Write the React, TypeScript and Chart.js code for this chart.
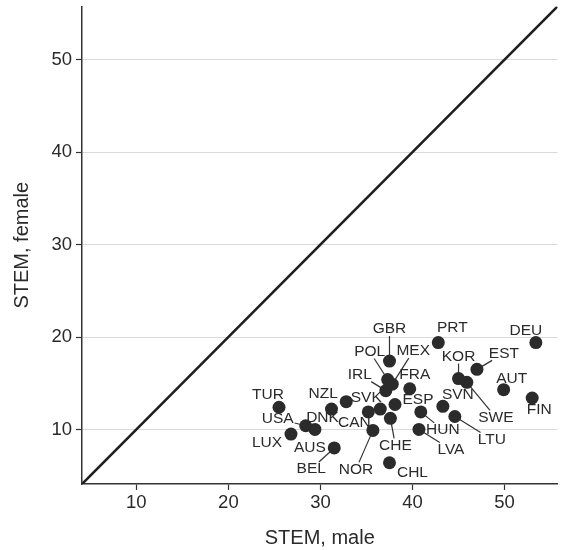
import React, { useEffect, useRef } from 'react';
import { Chart, registerables } from 'chart.js';

Chart.register(...registerables);

const countries = ['DEU', 'PRT', 'GBR', 'EST', 'KOR', 'SWE', 'POL', 'MEX', 'IRL', 'FRA', 'AUT', 'FIN', 'TUR', 'DNK', 'NZL', 'CAN', 'SVK', 'ESP', 'SVN', 'HUN', 'CHE', 'LTU', 'USA', 'AUS', 'LUX', 'NOR', 'LVA', 'BEL', 'CHL'];
const stemMale = [53.4, 42.8, 37.5, 47.0, 45.0, 45.9, 37.3, 37.8, 37.1, 39.7, 49.9, 53.0, 25.5, 31.2, 32.8, 35.2, 36.5, 38.1, 43.3, 40.9, 37.6, 44.6, 28.4, 29.4, 26.8, 35.7, 40.7, 31.5, 37.5];
const stemFemale = [19.4, 19.4, 17.4, 16.5, 15.5, 15.1, 15.4, 14.9, 14.2, 14.4, 14.3, 13.4, 12.4, 12.2, 13.0, 11.9, 12.2, 12.7, 12.5, 11.9, 11.2, 11.4, 10.4, 10.0, 9.5, 9.9, 10.0, 8.0, 6.4];
const tickValues = [10, 20, 30, 40, 50];
const axisMin = 4.1;
const axisMax = 55.75;

// label offsets (px) relative to point, and whether a leader line is drawn
const labelPlacement: Record<string, [number, number, boolean]> = {
  DEU: [-10, -12, false],
  PRT: [14, -15, false],
  GBR: [0, -32, true],
  EST: [27, -16, true],
  KOR: [0, -22, true],
  SWE: [29, 35, true],
  POL: [-18, -28, true],
  MEX: [21, -33, true],
  IRL: [-26, -16, true],
  FRA: [5, -14, false],
  AUT: [8, -11, false],
  FIN: [7, 12, false],
  TUR: [-11, -13, false],
  DNK: [-9, 9, false],
  NZL: [-23, -8, false],
  CAN: [-14, 11, false],
  SVK: [-14, -11, false],
  ESP: [23, -5, false],
  SVN: [15, -12, false],
  HUN: [22, 18, true],
  CHE: [5, 27, true],
  LTU: [37, 23, true],
  USA: [-28, -7, true],
  AUS: [-5, 18, false],
  LUX: [-24, 9, false],
  NOR: [-17, 39, true],
  LVA: [32, 20, true],
  BEL: [-23, 21, true],
  CHL: [23, 10, false],
};

const TEXT = '#2a2a2a';
const LABEL_FONT = '15.5px "Liberation Sans", Arial, sans-serif';

const labelPlugin = {
  id: 'countryLabels',
  beforeDatasetsDraw(chart: any) {
    const ctx = chart.ctx;
    const meta = chart.getDatasetMeta(0);
    ctx.save();
    ctx.font = LABEL_FONT;
    ctx.strokeStyle = '#333';
    ctx.lineWidth = 1.2;
    countries.forEach((c, i) => {
      const pl = labelPlacement[c];
      if (!pl || !pl[2]) return;
      const el = meta.data[i];
      const px = el.x, py = el.y;
      const lx = px + pl[0], ly = py + pl[1];
      const hw = ctx.measureText(c).width / 2 + 1;
      const hh = 7;
      const dx = lx - px, dy = ly - py;
      const s = Math.min(dx !== 0 ? hw / Math.abs(dx) : Infinity, dy !== 0 ? hh / Math.abs(dy) : Infinity);
      const ex = lx - dx * s, ey = ly - dy * s;
      ctx.beginPath();
      ctx.moveTo(px, py);
      ctx.lineTo(ex, ey);
      ctx.stroke();
    });
    ctx.restore();
  },
  afterDatasetsDraw(chart: any) {
    const ctx = chart.ctx;
    const meta = chart.getDatasetMeta(0);
    ctx.save();
    ctx.font = LABEL_FONT;
    ctx.fillStyle = TEXT;
    ctx.textAlign = 'center';
    ctx.textBaseline = 'middle';
    countries.forEach((c, i) => {
      const pl = labelPlacement[c] || [0, -14, false];
      const el = meta.data[i];
      ctx.fillText(c, el.x + pl[0], el.y + pl[1]);
    });
    ctx.restore();
  },
};

export default function App() {
  const ref = useRef<HTMLCanvasElement | null>(null);
  useEffect(() => {
    if (!ref.current) return;
    const points = countries.map((c, i) => ({ x: stemMale[i], y: stemFemale[i] }));
    const tickFont = { family: '"Liberation Sans", Arial, sans-serif', size: 18.5 };
    const titleFont = { family: '"Liberation Sans", Arial, sans-serif', size: 20 };
    const chart = new Chart(ref.current, {
      type: 'scatter',
      data: {
        datasets: [
          {
            label: 'countries',
            data: points,
            pointRadius: 6.5,
            pointHoverRadius: 6.5,
            backgroundColor: '#2b2b2b',
            borderWidth: 0,
          },
          {
            type: 'line',
            label: 'parity',
            data: [{ x: axisMin, y: axisMin }, { x: axisMax, y: axisMax }],
            borderColor: '#1e1e1e',
            borderWidth: 2.6,
            pointRadius: 0,
            fill: false,
          } as any,
        ],
      },
      options: {
        animation: false,
        responsive: false,
        layout: { padding: { left: 0, right: 6, top: 6, bottom: 0 } },
        plugins: { legend: { display: false }, tooltip: { enabled: false } },
        scales: {
          x: {
            type: 'linear',
            min: axisMin,
            max: axisMax,
            afterBuildTicks: (s: any) => { s.ticks = tickValues.map((v) => ({ value: v })); },
            afterFit: (s: any) => { s.height = 66; s.paddingLeft = 0; s.paddingRight = 0; },
            grid: { drawOnChartArea: false, tickLength: 6, tickColor: '#333', tickWidth: 1.2 },
            border: { color: '#333', width: 1.5 },
            ticks: { color: TEXT, font: tickFont, padding: 2, maxRotation: 0 },
            title: { display: true, text: 'STEM, male', color: TEXT, font: titleFont, padding: { top: 0, bottom: 0 } },
          },
          y: {
            type: 'linear',
            min: axisMin,
            max: axisMax,
            afterBuildTicks: (s: any) => { s.ticks = tickValues.map((v) => ({ value: v })); },
            afterFit: (s: any) => { s.width = 82; s.paddingTop = 0; s.paddingBottom = 0; },
            grid: { color: '#d9d9d9', lineWidth: 1, tickLength: 6, tickColor: '#333', tickWidth: 1.2 },
            border: { color: '#333', width: 1.5 },
            ticks: { color: TEXT, font: tickFont, padding: 4 },
            title: { display: true, text: 'STEM, female', color: TEXT, font: titleFont, padding: { top: 10, bottom: 0 } },
          },
        },
      },
      plugins: [labelPlugin],
    });
    return () => chart.destroy();
  }, []);
  return (
    <div style={{ position: 'absolute', left: 0, top: 0, width: 564, height: 550, background: '#fff' }}>
      <canvas ref={ref} width={564} height={550} style={{ display: 'block', width: 564, height: 550 }} />
    </div>
  );
}
